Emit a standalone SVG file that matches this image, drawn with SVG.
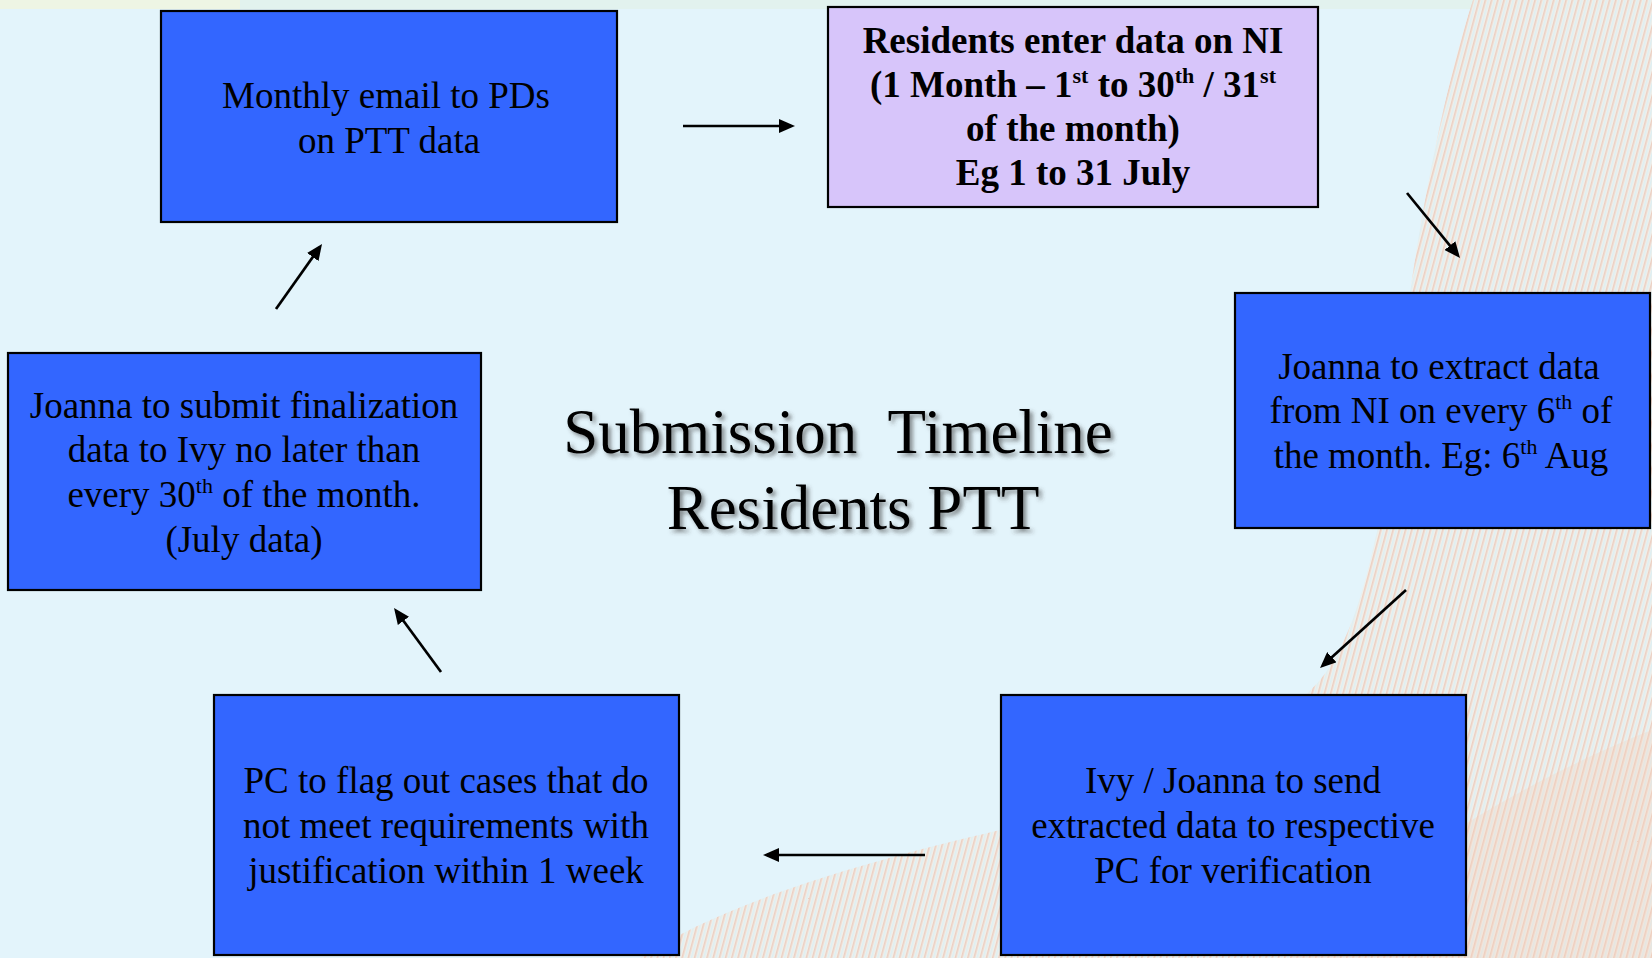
<svg xmlns="http://www.w3.org/2000/svg" width="1652" height="958" viewBox="0 0 1652 958">
  <style>
    .box { fill: #3366FF; stroke: #000; stroke-width: 2.2; }
    .box-alt { fill: #D7C5FA; stroke: #000; stroke-width: 2.2; }
    .lbl { font-family: "Liberation Serif", "Times New Roman", serif; font-size: 37px; fill: #000; text-anchor: middle; }
    .bold { font-weight: bold; }
    .sup { font-size: 22px; }
    .title { font-family: "Liberation Serif", "Times New Roman", serif; font-size: 63px; fill: #000; text-anchor: middle; filter: url(#shadow); white-space: pre; }
    .conn { stroke: #000; stroke-width: 2.7; fill: none; marker-end: url(#head); }
  </style>
  <defs>
    <marker id="head" markerUnits="userSpaceOnUse" markerWidth="16" markerHeight="14" refX="12" refY="7" orient="auto">
      <path d="M0,0 L16,7 L0,14 Z" fill="#000"/>
    </marker>
    <pattern id="stripes" width="6" height="40" patternUnits="userSpaceOnUse" patternTransform="rotate(15)">
      <rect width="6" height="40" fill="#F1EEE8"/>
      <rect x="0" width="1.6" height="40" fill="#EECBBB"/>
      <rect x="3" width="1.4" height="40" fill="#DCEFF3"/>
    </pattern>
    <filter id="shadow" x="-10%" y="-20%" width="120%" height="150%">
      <feDropShadow dx="3" dy="3" stdDeviation="2" flood-color="#3a3a3a" flood-opacity="0.6"/>
    </filter>
  </defs>

  <!-- backdrop -->
  <rect width="1652" height="958" fill="#E3F4FB"/>
  <rect width="1652" height="9" fill="#E2F2EE"/>
  <rect width="240" height="9" fill="#EEF5E4"/>
  <path d="M1473,0 C1440,100 1415,250 1405,330 C1395,420 1385,500 1375,540 C1362,600 1345,650 1320,680 C1250,760 1120,800 1000,830 C850,865 720,905 640,958 L1652,958 L1652,0 Z" fill="url(#stripes)" opacity="0.9"/>
  <path d="M1290,958 C1400,850 1550,770 1652,730 L1652,958 Z" fill="#F6CDB5" opacity="0.25"/>

  <!-- heading -->
  <g id="title">
    <text class="title" x="838" y="453" xml:space="preserve">Submission  Timeline</text>
    <text class="title" x="853" y="529">Residents PTT</text>
  </g>

  <!-- process steps -->
  <g id="node-monthly-email">
    <rect class="box" x="161" y="11" width="456" height="211"/>
    <text class="lbl" x="386" y="108">Monthly email to PDs</text>
    <text class="lbl" x="389" y="153">on PTT data</text>
  </g>

  <g id="node-residents-enter">
    <rect class="box-alt" x="828" y="7" width="490" height="200"/>
    <text class="lbl bold" x="1073" y="53">Residents enter data on NI</text>
    <text class="lbl bold" x="1073" y="97">(1 Month – 1<tspan class="sup" dy="-14">st</tspan><tspan dy="14"> to 30</tspan><tspan class="sup" dy="-14">th</tspan><tspan dy="14"> / 31</tspan><tspan class="sup" dy="-14">st</tspan></text>
    <text class="lbl bold" x="1073" y="141">of the month)</text>
    <text class="lbl bold" x="1073" y="185">Eg 1 to 31 July</text>
  </g>

  <g id="node-extract">
    <rect class="box" x="1235" y="293" width="415" height="235"/>
    <text class="lbl" x="1439" y="379">Joanna to extract data</text>
    <text class="lbl" x="1441" y="423">from NI on every 6<tspan class="sup" dy="-14">th</tspan><tspan dy="14"> of</tspan></text>
    <text class="lbl" x="1441" y="468">the month. Eg: 6<tspan class="sup" dy="-14">th</tspan><tspan dy="14"> Aug</tspan></text>
  </g>

  <g id="node-send">
    <rect class="box" x="1001" y="695" width="465" height="260"/>
    <text class="lbl" x="1233" y="793">Ivy / Joanna to send</text>
    <text class="lbl" x="1233" y="838">extracted data to respective</text>
    <text class="lbl" x="1233" y="883">PC for verification</text>
  </g>

  <g id="node-flag">
    <rect class="box" x="214" y="695" width="465" height="260"/>
    <text class="lbl" x="446" y="793">PC to flag out cases that do</text>
    <text class="lbl" x="446" y="838">not meet requirements with</text>
    <text class="lbl" x="446" y="883">justification within 1 week</text>
  </g>

  <g id="node-submit">
    <rect class="box" x="8" y="353" width="473" height="237"/>
    <text class="lbl" x="244" y="418">Joanna to submit finalization</text>
    <text class="lbl" x="244" y="462">data to Ivy no later than</text>
    <text class="lbl" x="244" y="507">every 30<tspan class="sup" dy="-14">th</tspan><tspan dy="14"> of the month.</tspan></text>
    <text class="lbl" x="244" y="552">(July data)</text>
  </g>

  <!-- flow arrows -->
  <g id="connectors">
    <line class="conn" x1="683" y1="126" x2="791" y2="126"/>
    <line class="conn" x1="1407" y1="193" x2="1457.5" y2="254.9"/>
    <line class="conn" x1="1406" y1="590" x2="1323" y2="665.3"/>
    <line class="conn" x1="925" y1="855" x2="767" y2="855"/>
    <line class="conn" x1="441" y1="672" x2="396.4" y2="611.2"/>
    <line class="conn" x1="276" y1="309" x2="319.7" y2="247.3"/>
  </g>
</svg>
